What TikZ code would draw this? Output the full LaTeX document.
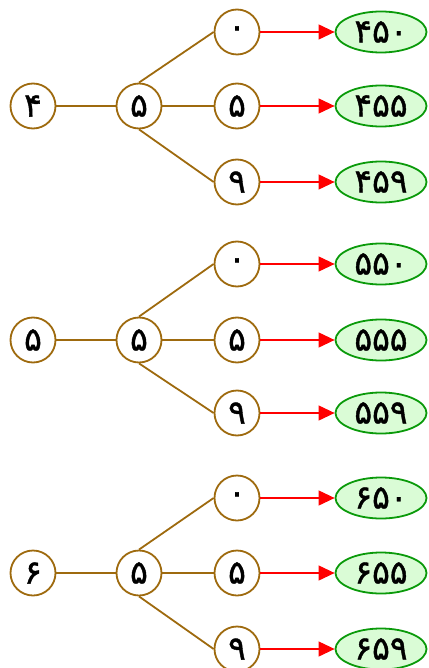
\documentclass[tikz,border=0pt]{standalone}
\usepackage{fontspec}
\newfontfamily\fa[Script=Arabic,FakeBold=1.2]{DejaVu Sans}
\usetikzlibrary{shapes.geometric,arrows.meta}
\definecolor{brn}{HTML}{9E6A0E}
\definecolor{grn}{HTML}{0A9A0A}
\definecolor{lgrn}{HTML}{DAFCD6}
\tikzset{
  digit/.style={circle,draw=brn,line width=1.8pt,fill=white,minimum size=45pt,inner sep=0pt,font=\fa\fontsize{33}{33}\selectfont},
  res/.style={ellipse,draw=grn,line width=1.8pt,fill=lgrn,minimum width=91pt,minimum height=41pt,inner sep=0pt,font=\fa\fontsize{33}{33}\selectfont},
  br/.style={draw=brn,line width=1.8pt},
  ar/.style={draw=red,line width=1.1pt,-{Triangle[length=16pt,width=15pt]}}
}
\begin{document}
\begin{tikzpicture}[x=1pt,y=-1pt]
\useasboundingbox (0,0) rectangle (428,668);
% group 1
\node[digit] (r1) at (33,106) {۴};
\node[digit] (m1) at (139,106) {۵};
\node[digit] (a1) at (237,32) {۰};
\node[digit] (b1) at (237,106) {۵};
\node[digit] (c1) at (237,182) {۹};
\node[res] (ra1) at (381,32) {۴۵۰};
\node[res] (rb1) at (381,106) {۴۵۵};
\node[res] (rc1) at (381,182) {۴۵۹};
% group 2
\node[digit] (r2) at (33,340) {۵};
\node[digit] (m2) at (139,340) {۵};
\node[digit] (a2) at (237,264) {۰};
\node[digit] (b2) at (237,340) {۵};
\node[digit] (c2) at (237,413) {۹};
\node[res] (ra2) at (381,264) {۵۵۰};
\node[res] (rb2) at (381,340) {۵۵۵};
\node[res] (rc2) at (381,413) {۵۵۹};
% group 3
\node[digit] (r3) at (33,573) {۶};
\node[digit] (m3) at (139,573) {۵};
\node[digit] (a3) at (237,498) {۰};
\node[digit] (b3) at (237,573) {۵};
\node[digit] (c3) at (237,649) {۹};
\node[res] (ra3) at (381,498) {۶۵۰};
\node[res] (rb3) at (381,573) {۶۵۵};
\node[res] (rc3) at (381,649) {۶۵۹};
\foreach \g in {1,2,3}{
  \draw[br] (r\g) -- (m\g);
  \draw[br] (m\g.north) -- (a\g.west);
  \draw[br] (m\g) -- (b\g);
  \draw[br] (m\g.south) -- (c\g.west);
  \draw[ar] (a\g) -- (ra\g);
  \draw[ar] (b\g) -- (rb\g);
  \draw[ar] (c\g) -- (rc\g);
}
\end{tikzpicture}
\end{document}
